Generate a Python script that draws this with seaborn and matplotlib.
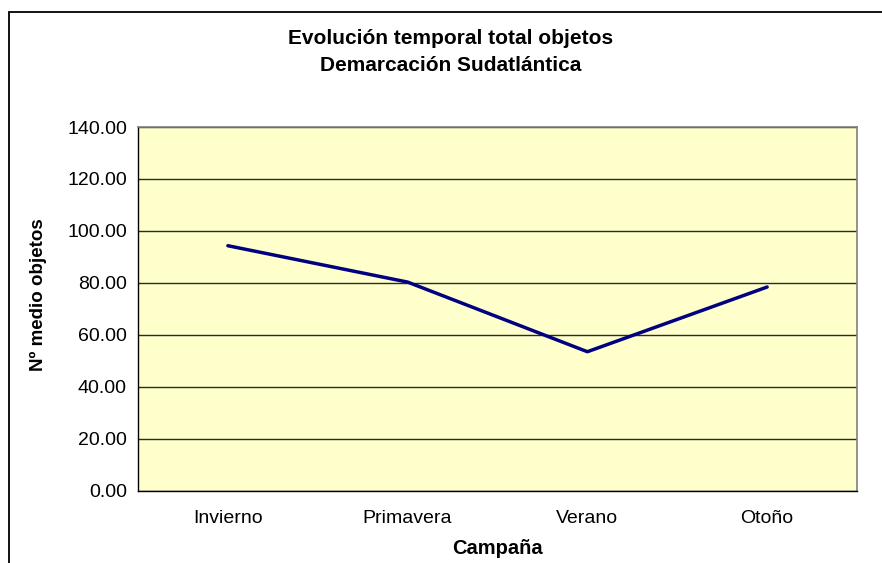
import matplotlib
matplotlib.use("Agg")
import matplotlib.pyplot as plt
import matplotlib.patches as mpatches
import seaborn as sns
import pandas as pd

categories = ["Invierno", "Primavera", "Verano", "Otoño"]
values = [94.3, 80.3, 53.5, 78.4]
yticks = [0, 20, 40, 60, 80, 100, 120, 140]

sns.set_style("white")
plt.rcParams['font.family'] = ['Liberation Sans', 'DejaVu Sans']
plt.rcParams['text.color'] = 'black'
plt.rcParams['xtick.color'] = 'black'
plt.rcParams['ytick.color'] = 'black'
plt.rcParams['axes.labelcolor'] = 'black'

W, H = 882, 563
fig = plt.figure(figsize=(W / 100, H / 100), dpi=100)
ax = fig.add_axes([138 / W, 1 - 490.7 / H, (857 - 138) / W, (490.7 - 127) / H])

df = pd.DataFrame({"Campaña": categories, "val": values})
sns.lineplot(data=df, x="Campaña", y="val", ax=ax, color="#000080", linewidth=2.5, sort=False)

ax.set_facecolor("#FFFFCC")
ax.set_xlim(-0.5, 3.5)
ax.set_ylim(0, 140)
ax.set_yticks(yticks)
ax.set_yticklabels([f"{v:.2f}" for v in yticks], fontsize=14)
ax.set_xticks(range(len(categories)))
ax.set_xticklabels(categories, fontsize=14)
ax.set_xticks([i - 0.5 for i in range(len(categories) + 1)], minor=True)
ax.tick_params(axis="x", which="major", length=0, pad=14)
ax.tick_params(axis="x", which="minor", length=5, width=1, direction="out", color="black")
ax.tick_params(axis="y", which="major", length=5, width=1, direction="out", color="black", pad=3)
ax.yaxis.grid(True, color="#2a2a2a", linewidth=1)
ax.set_axisbelow(True)
for s in ["top", "right"]:
    ax.spines[s].set_color("#808080")
    ax.spines[s].set_linewidth(1.2)
for s in ["left", "bottom"]:
    ax.spines[s].set_color("black")
    ax.spines[s].set_linewidth(1)
ax.set_xlabel("")
ax.set_ylabel("")

fig.text(451 / W, 1 - 52 / H, "Evolución temporal total objetos\nDemarcación Sudatlántica",
         ha="center", va="center", fontsize=15, fontweight="bold", linespacing=1.5)
fig.text(497 / W, 1 - 549 / H, "Campaña", ha="center", va="center", fontsize=14.5, fontweight="bold")
fig.text(38 / W, 1 - 295 / H, "Nº medio objetos", ha="center", va="center", rotation=90,
         fontsize=13.5, fontweight="bold")

rect = mpatches.Rectangle((8.5 / W, -0.2), 1.2, 0.2 + (1 - 12 / H),
                          transform=fig.transFigure, fill=False, edgecolor="black", linewidth=1.3)
fig.patches.append(rect)

fig.savefig("out.png", dpi=100)
